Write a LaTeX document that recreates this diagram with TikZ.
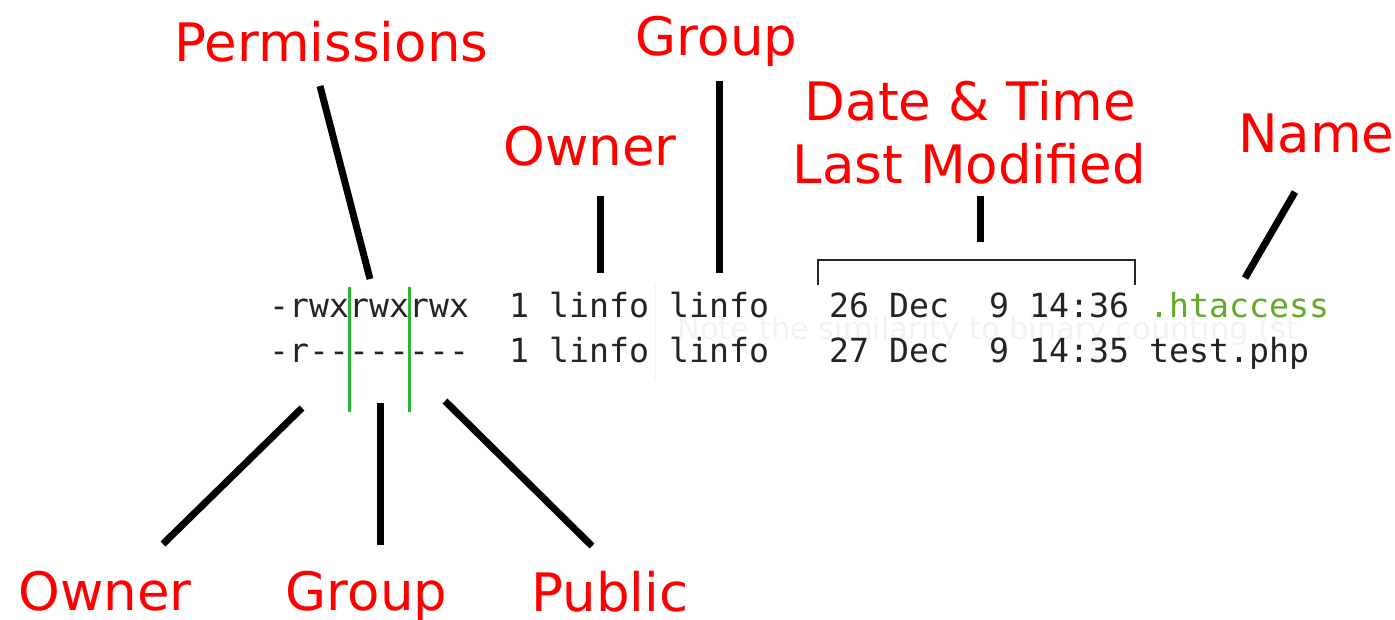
\documentclass[tikz,border=0pt]{standalone}
\usepackage{fontspec}
\newfontfamily\labfont{DejaVu Sans}
\newfontfamily\monofont{DejaVu Sans Mono}
\definecolor{labred}{RGB}{255,0,0}
\definecolor{termtext}{RGB}{34,36,38}
\definecolor{hlgreen}{RGB}{98,170,40}
\definecolor{sepgreen}{RGB}{40,185,50}
\definecolor{ghost}{RGB}{242,242,242}
\begin{document}
\begin{tikzpicture}[x=1pt,y=-1pt,
  lab/.style={inner sep=0pt,anchor=base,text=labred,font=\labfont\fontsize{53}{60}\selectfont},
  term/.style={inner sep=0pt,anchor=base west,text=termtext,font=\monofont\fontsize{33.2}{40}\selectfont},
  pointer/.style={line width=7pt,black},
  bracketline/.style={line width=2pt,black!85},
  sepline/.style={line width=2.2pt,sepgreen}]
\useasboundingbox[fill=white] (0,0) rectangle (1395,619);

% faint background remnants
\draw[ghost,line width=1pt] (655,285) -- (655,380);
\begin{scope}
\clip (660,300) rectangle (1355,350);
\node[inner sep=0pt,anchor=base west,text=ghost,font=\labfont\fontsize{30.5}{34}\selectfont] (ghosttext) at (677,339) {Note the similarity to binary counting (st};
\end{scope}

% terminal listing, row 1
\node[term] (p1)   at (269,317) {-rwxrwxrwx};
\node[term] (n1)   at (509,317) {1};
\node[term] (o1)   at (549,317) {linfo};
\node[term] (g1)   at (669,317) {linfo};
\node[term] (s1)   at (829,317) {26};
\node[term] (m1)   at (889,317) {Dec};
\node[term] (d1)   at (989,317) {9};
\node[term] (t1)   at (1029,317) {14:36};
\node[term,text=hlgreen] (f1) at (1149,317) {.htaccess};
% row 2
\node[term] (p2)   at (269,362) {-r--------};
\node[term] (n2)   at (509,362) {1};
\node[term] (o2)   at (549,362) {linfo};
\node[term] (g2)   at (669,362) {linfo};
\node[term] (s2)   at (829,362) {27};
\node[term] (m2)   at (889,362) {Dec};
\node[term] (d2)   at (989,362) {9};
\node[term] (t2)   at (1029,362) {14:35};
\node[term] (f2)   at (1149,362) {test.php};

% green separators
\coordinate (sepAtop) at (349.5,287);
\coordinate (sepAbot) at (349.5,412);
\coordinate (sepBtop) at (409.5,287);
\coordinate (sepBbot) at (409.5,412);
\draw[sepline] (sepAtop) -- (sepAbot);
\draw[sepline] (sepBtop) -- (sepBbot);

% labels
\node[lab] (permissions) at (331.5,61) {Permissions};
\node[lab] (grouptop) at (716.5,55) {Group};
\node[lab] (ownertop) at (590,165) {Owner};
\node[lab] (datetime) at (970.5,120) {Date \& Time};
\node[lab] (lastmod) at (969.5,183) {Last Modified};
\node[lab,anchor=base west] (name) at (1238,152) {Name};
\node[lab] (ownerbot) at (105,610) {Owner};
\node[lab] (groupbot) at (366.5,610) {Group};
\node[lab] (public) at (610,611) {Public};

% pointer end points
\coordinate (permA) at (320,86);
\coordinate (permB) at (370,279);
\coordinate (ownA) at (600,196);
\coordinate (ownB) at (600,273);
\coordinate (grpA) at (719,81);
\coordinate (grpB) at (719,273);
\coordinate (dateA) at (980,196);
\coordinate (dateB) at (980,242);
\coordinate (nameA) at (1295,192);
\coordinate (nameB) at (1245,278);
\coordinate (obA) at (302,408);
\coordinate (obB) at (163,544);
\coordinate (gbA) at (380,403);
\coordinate (gbB) at (380,545);
\coordinate (pbA) at (445,401);
\coordinate (pbB) at (592,546);

\draw[pointer] (permA) -- (permB);
\draw[pointer] (ownA) -- (ownB);
\draw[pointer] (grpA) -- (grpB);
\draw[pointer] (dateA) -- (dateB);
\draw[pointer] (nameA) -- (nameB);
\draw[pointer] (obA) -- (obB);
\draw[pointer] (gbA) -- (gbB);
\draw[pointer] (pbA) -- (pbB);

% bracket over date/time
\coordinate (brL) at (818,285);
\coordinate (brR) at (1135,285);
\draw[bracketline] (brL) -- (818,260) -- (1135,260) -- (brR);
\end{tikzpicture}
\end{document}
